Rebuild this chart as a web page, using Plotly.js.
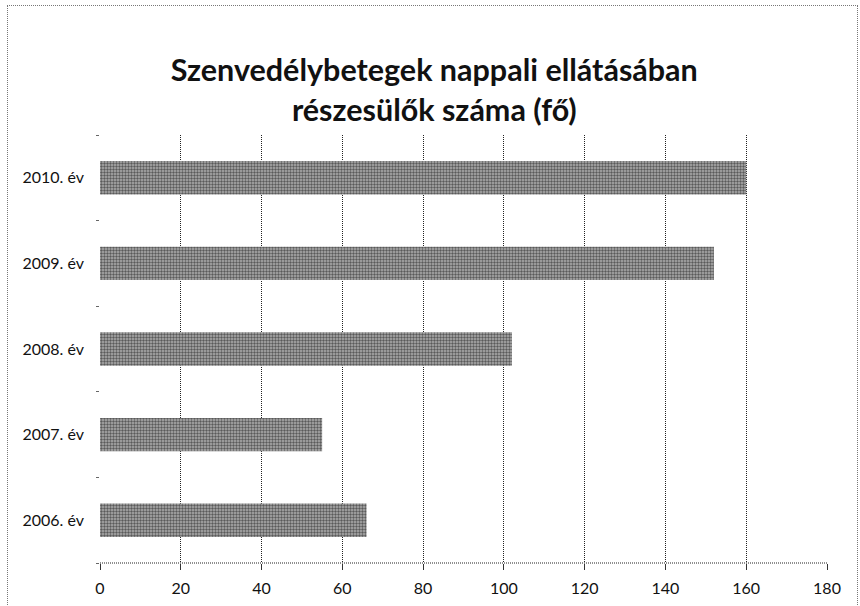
<!DOCTYPE html>
<html>
<head>
<meta charset="utf-8">
<script src="https://cdn.plot.ly/plotly-3.0.1.min.js"></script>
<style>
  html, body { margin: 0; padding: 0; background: #fff; }
  #wrap { position: relative; width: 860px; height: 606px; }
  #chart { width: 860px; height: 606px; }
  #frame { position: absolute; left: 7px; top: 5px; width: 849px; height: 610px;
           border: 1px dotted #777; pointer-events: none; }
</style>
</head>
<body>
<div id="wrap">
  <div id="chart"></div>
  <div id="frame"></div>
</div>
<script>
const categories = ["2006. év", "2007. év", "2008. év", "2009. év", "2010. év"];
const values = [66, 55, 102, 152, 160];
const titleText = "Szenvedélybetegek nappali ellátásában<br>részesülők száma (fő)";
const xTicks = [0, 20, 40, 60, 80, 100, 120, 140, 160, 180];

const trace = {
  type: "bar",
  orientation: "h",
  y: categories,
  x: values,
  marker: {
    color: "#8e8e8e",
    line: { width: 0 },
    pattern: { shape: ".", fgcolor: "#5a5a5a", bgcolor: "#b0b0b0", size: 3, solidity: 0.5 }
  },
  hoverinfo: "x+y"
};

const layout = {
  width: 860, height: 606,
  paper_bgcolor: "#ffffff", plot_bgcolor: "#ffffff",
  margin: { l: 100, r: 33, t: 135, b: 43 },
  showlegend: false,
  bargap: 0.61,
  font: { family: "Lato, 'Open Sans', sans-serif", color: "#111" },
  title: {
    text: titleText,
    font: { family: "Lato, 'Open Sans', sans-serif", size: 30.5, color: "#111", weight: "bold" },
    x: 0.505, xanchor: "center", xref: "container",
    y: 0.866, yanchor: "middle", yref: "container"
  },
  xaxis: {
    range: [0, 180],
    tickvals: xTicks,
    ticktext: xTicks.map(String),
    showgrid: true, gridcolor: "#222", griddash: "1px,1px", gridwidth: 1,
    zeroline: false, showline: false,
    ticks: "outside", ticklen: 6, tickcolor: "#333", tickwidth: 1,
    tickfont: { size: 16, color: "#111" },
    ticklabelstandoff: 5,
    fixedrange: true
  },
  yaxis: {
    type: "category",
    categoryorder: "array", categoryarray: categories,
    showgrid: false, zeroline: false, showline: false,
    ticks: "outside", tickson: "boundaries", ticklen: 3, tickcolor: "#666",
    tickfont: { size: 16, color: "#111" },
    ticklabelstandoff: 15,
    fixedrange: true
  },
  shapes: [
    { type: "line", xref: "paper", yref: "paper", x0: 0, x1: 1, y0: 0, y1: 0,
      line: { color: "#222", width: 1, dash: "1px,1px" } }
  ]
};

Plotly.newPlot("chart", [trace], layout, { staticPlot: true, displayModeBar: false });
</script>
</body>
</html>
